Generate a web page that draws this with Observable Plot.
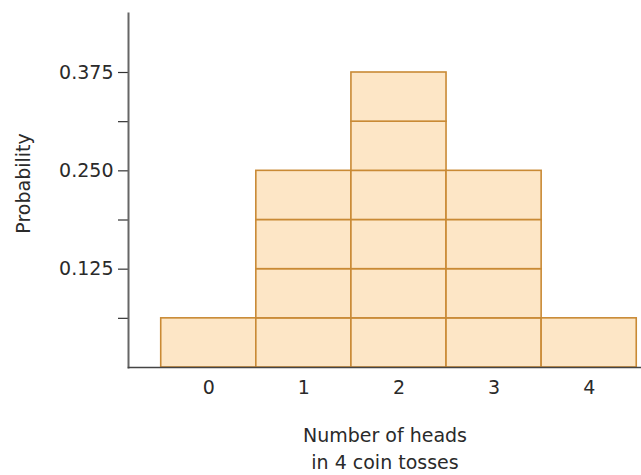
<!DOCTYPE html>
<html>
<head>
<meta charset="utf-8">
<script src="https://cdn.jsdelivr.net/npm/d3@7"></script>
<script src="https://cdn.jsdelivr.net/npm/@observablehq/plot@0.6"></script>
<style>
  html, body { margin: 0; padding: 0; background: #fff; }
  #chart svg { display: block; }
</style>
</head>
<body>
<div id="chart"></div>
<script>
// Data: number of heads in 4 coin tosses and their probabilities
const heads = [0, 1, 2, 3, 4];
const probabilities = [0.0625, 0.25, 0.375, 0.25, 0.0625];
const blockSize = 0.0625; // each outcome block = 1/16
const yTicks = [0.0625, 0.125, 0.1875, 0.25, 0.3125, 0.375];
const yTickLabels = {0.125: "0.125", 0.25: "0.250", 0.375: "0.375"};
const xLabelLine1 = "Number of heads";
const xLabelLine2 = "in 4 coin tosses";
const yLabel = "Probability";

// Build stacked unit blocks
const blocks = [];
heads.forEach((h, i) => {
  const n = Math.round(probabilities[i] / blockSize);
  for (let k = 0; k < n; k++) {
    blocks.push({x1: h - 0.5, x2: h + 0.5, y1: k * blockSize, y2: (k + 1) * blockSize});
  }
});

const font = "'DejaVu Sans', Arial, sans-serif";
const fill = "#fde6c6";
const stroke = "#c98a35";
const textColor = "#2a2a2a";

const chart = Plot.plot({
  width: 641,
  height: 475,
  marginLeft: 128,
  marginRight: 0,
  marginTop: 13,
  marginBottom: 108,
  style: {fontFamily: font, fontSize: "19px", color: textColor, background: "#fff"},
  x: {domain: [-0.844, 4.55], axis: null},
  y: {domain: [0, 0.45], axis: null},
  marks: [
    Plot.rect(blocks, {x1: "x1", x2: "x2", y1: "y1", y2: "y2", fill: fill, stroke: stroke, strokeWidth: 1.6}),
    Plot.axisY(yTicks, {tickSize: 10, tickPadding: 5, tickFormat: d => yTickLabels[d] ?? "", stroke: "#333", strokeWidth: 1.2, fontSize: 19, label: null}),
    Plot.axisX(heads, {tickSize: 0, tickPadding: 13, fontSize: 19, label: null}),
    Plot.frame({anchor: "left", stroke: "#666", strokeWidth: 2}),
    Plot.frame({anchor: "bottom", stroke: "#444", strokeWidth: 1.6}),
    Plot.text([xLabelLine1], {text: d => d, frameAnchor: "bottom", textAnchor: "middle", lineAnchor: "middle", dy: 68, fontSize: 19, fill: textColor}),
    Plot.text([xLabelLine2], {text: d => d, frameAnchor: "bottom", textAnchor: "middle", lineAnchor: "middle", dy: 95, fontSize: 19, fill: textColor}),
    Plot.text([yLabel], {text: d => d, frameAnchor: "left", textAnchor: "middle", lineAnchor: "middle", dx: -105, dy: -7, rotate: -90, fontSize: 19, fill: textColor})
  ]
});

document.getElementById("chart").appendChild(chart);
</script>
</body>
</html>
